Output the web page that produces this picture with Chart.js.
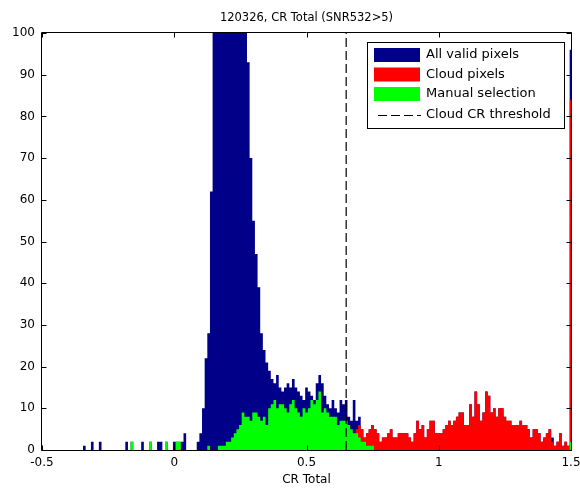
<!DOCTYPE html>
<html>
<head>
<meta charset="utf-8">
<script src="https://cdn.jsdelivr.net/npm/chart.js@4.4.1/dist/chart.umd.min.js"></script>
<style>
    html, body { margin: 0; padding: 0; background: #fff; }
    #wrap { width: 580px; height: 489px; }
</style>
</head>
<body>
<div id="wrap"><canvas id="myChart"></canvas></div>
<script>
// histogram bins, 0.01 wide, centres from -0.5 to 1.5
const binCenters = Array.from({ length: 201 }, (_, i) => Math.round((-0.5 + i * 0.01) * 100) / 100);

const allValid = [
    0, 0, 0, 0, 0, 0, 0, 0, 0, 0,            // -0.50
    0, 0, 0, 0, 0, 0, 1, 0, 0, 2,            // -0.40
    0, 0, 2, 0, 0, 0, 0, 0, 0, 0,            // -0.30
    0, 0, 2, 0, 2, 0, 0, 0, 2, 0,            // -0.20
    0, 2, 0, 0, 2, 2, 0, 2, 0, 0,            // -0.10
    2, 2, 2, 2, 4, 0, 0, 0, 0, 2,            // 0.00
    4, 10, 22, 28, 62, 125, 160, 195, 225, 240,   // 0.10
    245, 235, 215, 195, 175, 150, 125, 110, 93, 70, // 0.20
    55, 47, 39, 28, 24, 21, 19, 17, 16, 18,  // 0.30
    15, 14, 15, 16, 15, 17, 15, 14, 13, 12,  // 0.40
    15, 14, 13, 12, 16, 18, 16, 13, 11, 10,  // 0.50
    12, 10, 9, 12, 11, 12, 8, 7, 12, 7,      // 0.60
    8, 5, 3, 4, 5, 6, 5, 4, 2, 3,            // 0.70
    3, 4, 5, 3, 3, 4, 4, 4, 4, 3,            // 0.80
    2, 4, 7, 5, 6, 3, 5, 7, 7, 4,            // 0.90
    4, 4, 5, 6, 7, 6, 7, 8, 9, 9,            // 1.00
    6, 6, 11, 8, 14, 11, 7, 9, 14, 13,       // 1.10
    9, 10, 8, 10, 10, 8, 7, 7, 6, 6,         // 1.20
    6, 7, 6, 6, 5, 3, 5, 5, 4, 2,            // 1.30
    3, 4, 5, 3, 1, 2, 4, 1, 2, 1,            // 1.40
    96                                       // 1.50
];

const cloud = [
    0, 0, 0, 0, 0, 0, 0, 0, 0, 0,            // -0.50
    0, 0, 0, 0, 0, 0, 0, 0, 0, 0,            // -0.40
    0, 0, 0, 0, 0, 0, 0, 0, 0, 0,            // -0.30
    0, 0, 0, 0, 0, 0, 0, 0, 0, 0,            // -0.20
    0, 0, 0, 0, 0, 0, 0, 0, 0, 0,            // -0.10
    0, 0, 0, 0, 0, 0, 0, 0, 0, 0,            // 0.00
    0, 0, 0, 0, 0, 0, 0, 0, 0, 0,            // 0.10
    0, 0, 0, 0, 0, 0, 0, 0, 0, 0,            // 0.20
    0, 0, 0, 0, 0, 0, 0, 0, 0, 0,            // 0.30
    0, 0, 0, 0, 0, 0, 0, 0, 0, 0,            // 0.40
    0, 0, 0, 0, 0, 0, 0, 0, 0, 0,            // 0.50
    0, 0, 0, 0, 0, 0, 2, 4, 4, 5,            // 0.60
    6, 5, 3, 4, 5, 6, 5, 4, 2, 3,            // 0.70
    3, 4, 5, 3, 3, 4, 4, 4, 4, 3,            // 0.80
    2, 4, 7, 5, 6, 3, 5, 7, 7, 4,            // 0.90
    4, 4, 5, 6, 7, 6, 7, 8, 9, 9,            // 1.00
    6, 6, 11, 8, 14, 11, 7, 9, 14, 13,       // 1.10
    9, 10, 8, 10, 10, 8, 7, 7, 6, 6,         // 1.20
    6, 7, 6, 6, 5, 3, 5, 5, 4, 2,            // 1.30
    3, 4, 5, 2, 1, 2, 4, 1, 2, 1,            // 1.40
    84                                       // 1.50
];

const manual = [
    0, 0, 0, 0, 0, 0, 0, 0, 0, 0,            // -0.50
    0, 0, 0, 0, 0, 0, 0, 0, 0, 0,            // -0.40
    0, 0, 0, 0, 0, 0, 0, 0, 0, 0,            // -0.30
    0, 0, 0, 0, 2, 0, 0, 0, 0, 0,            // -0.20
    0, 2, 0, 0, 0, 0, 0, 2, 0, 0,            // -0.10
    0, 2, 2, 0, 0, 0, 0, 0, 0, 0,            // 0.00
    0, 0, 0, 1, 0, 0, 0, 1, 1, 1,            // 0.10
    2, 2, 3, 4, 5, 6, 9, 8, 8, 7,            // 0.20
    9, 9, 8, 7, 8, 6, 10, 11, 12, 10,        // 0.30
    11, 11, 10, 9, 11, 12, 10, 9, 8, 10,     // 0.40
    9, 10, 12, 11, 12, 14, 9, 10, 9, 8,      // 0.50
    8, 8, 6, 7, 7, 7, 6, 5, 4, 4,            // 0.60
    3, 2, 2, 1, 1, 1, 0, 0, 0, 0,            // 0.70
    0, 0, 0, 0, 0, 0, 0, 0, 0, 0,            // 0.80
    0, 0, 0, 0, 0, 0, 0, 0, 0, 0,            // 0.90
    0, 0, 0, 0, 0, 0, 0, 0, 0, 0,            // 1.00
    0, 0, 0, 0, 0, 0, 0, 0, 0, 0,            // 1.10
    0, 0, 0, 0, 0, 0, 0, 0, 0, 0,            // 1.20
    0, 0, 0, 0, 0, 0, 0, 0, 0, 0,            // 1.30
    0, 0, 0, 0, 0, 0, 0, 0, 0, 0,            // 1.40
    2                                        // 1.50
];

const cloudThreshold = 0.65;
const xTicks = [-0.5, 0, 0.5, 1, 1.5];
const yTicks = [0, 10, 20, 30, 40, 50, 60, 70, 80, 90, 100];

const toPoints = vals => binCenters.map((x, i) => ({ x: x, y: vals[i] }));

const FONT = '"DejaVu Sans", Verdana, sans-serif';
Chart.defaults.font.family = FONT;
Chart.defaults.font.size = 12;
Chart.defaults.color = '#000';

// histogram drawn as a filled step outline (steps at the bin edges)
const histStyle = {
    type: 'line',
    stepped: 'middle',
    fill: 'origin',
    borderWidth: 0,
    borderColor: 'rgba(0,0,0,0)',
    pointRadius: 0
};

// box, inward ticks and the legend, drawn like a MATLAB figure
const matlabFrame = {
    id: 'matlabFrame',
    afterDatasetsDraw(chart) {
        const { ctx, chartArea: a, scales: { x, y } } = chart;
        // frame sits just outside the data area so edge bins stay visible
        const L = Math.round(a.left) - 0.5, R = Math.round(a.right) + 0.5;
        const T = Math.round(a.top) - 0.5, B = Math.round(a.bottom) + 0.5;
        ctx.save();
        ctx.strokeStyle = '#000';
        ctx.lineWidth = 1;
        ctx.beginPath();
        ctx.rect(L, T, R - L, B - T);
        xTicks.forEach(v => {
            const px = Math.round(x.getPixelForValue(v)) + 0.5;
            ctx.moveTo(px, B); ctx.lineTo(px, B - 5);
            ctx.moveTo(px, T); ctx.lineTo(px, T + 5);
        });
        yTicks.forEach(v => {
            const py = Math.round(y.getPixelForValue(v)) + 0.5;
            ctx.moveTo(L, py); ctx.lineTo(L + 5, py);
            ctx.moveTo(R, py); ctx.lineTo(R - 5, py);
        });
        ctx.stroke();

        // legend box
        const bx = 367.5, by = 42.5, bw = 197, bh = 86;
        ctx.fillStyle = '#fff';
        ctx.fillRect(bx, by, bw, bh);
        ctx.strokeRect(bx, by, bw, bh);
        ctx.font = '13px ' + FONT;
        ctx.textBaseline = 'middle';
        const rows = [55, 74.5, 94, 115];
        chart.data.datasets.forEach((ds, i) => {
            const cy = rows[i];
            if (ds.fill) {
                ctx.fillStyle = ds.backgroundColor;
                ctx.fillRect(374, cy - 7, 46, 14);
            } else {
                ctx.beginPath();
                ctx.setLineDash([9, 4]);
                ctx.moveTo(378, Math.round(cy) + 0.5);
                ctx.lineTo(421, Math.round(cy) + 0.5);
                ctx.stroke();
                ctx.setLineDash([]);
            }
            ctx.fillStyle = '#000';
            ctx.fillText(ds.label, 426, cy);
        });
        ctx.restore();
    }
};

const ctx = document.getElementById('myChart').getContext('2d');
const myChart = new Chart(ctx, {
    data: {
        datasets: [{
            ...histStyle,
            label: 'All valid pixels',
            data: toPoints(allValid),
            backgroundColor: '#000088',
            order: 3
        }, {
            ...histStyle,
            label: 'Cloud pixels',
            data: toPoints(cloud),
            backgroundColor: '#ff0000',
            order: 2
        }, {
            ...histStyle,
            label: 'Manual selection',
            data: toPoints(manual),
            backgroundColor: '#00ff00',
            order: 1
        }, {
            type: 'line',
            label: 'Cloud CR threshold',
            data: [{ x: cloudThreshold, y: 0 }, { x: cloudThreshold, y: 100 }],
            borderColor: '#000',
            borderWidth: 1.2,
            borderDash: [9, 4],
            pointRadius: 0,
            fill: false,
            order: 0
        }]
    },
    options: {
        responsive: true,
        maintainAspectRatio: false,
        animation: false,
        layout: {
            padding: { left: 0, right: 9, top: 0, bottom: 0 }
        },
        scales: {
            x: {
                type: 'linear',
                min: -0.5,
                max: 1.5,
                grid: { display: false, drawTicks: false },
                border: { display: false },
                ticks: {
                    stepSize: 0.5,
                    padding: 6,
                    color: '#000',
                    maxRotation: 0,
                    callback: v => String(v)
                },
                title: {
                    display: true,
                    text: 'CR Total',
                    color: '#000',
                    padding: { top: 0, bottom: 2 }
                },
                afterFit: s => {
                    s.height = 39;
                    // let the last tick label hang off the right edge, as in the figure
                    s.paddingLeft = 0;
                    s.paddingRight = 0;
                }
            },
            y: {
                type: 'linear',
                min: 0,
                max: 100,
                grid: { display: false, drawTicks: false },
                border: { display: false },
                ticks: {
                    stepSize: 10,
                    padding: 7,
                    color: '#000'
                },
                afterFit: s => {
                    s.width = 42;
                    s.paddingTop = 0;
                    s.paddingBottom = 0;
                }
            }
        },
        plugins: {
            legend: { display: false },
            tooltip: { enabled: false },
            title: {
                display: true,
                text: '120326, CR Total (SNR532>5)',
                fullSize: false,
                color: '#000',
                font: { size: 11.5, weight: 'normal' },
                padding: { top: 11, bottom: 8.2 }
            }
        }
    },
    plugins: [matlabFrame]
});
</script>
</body>
</html>
